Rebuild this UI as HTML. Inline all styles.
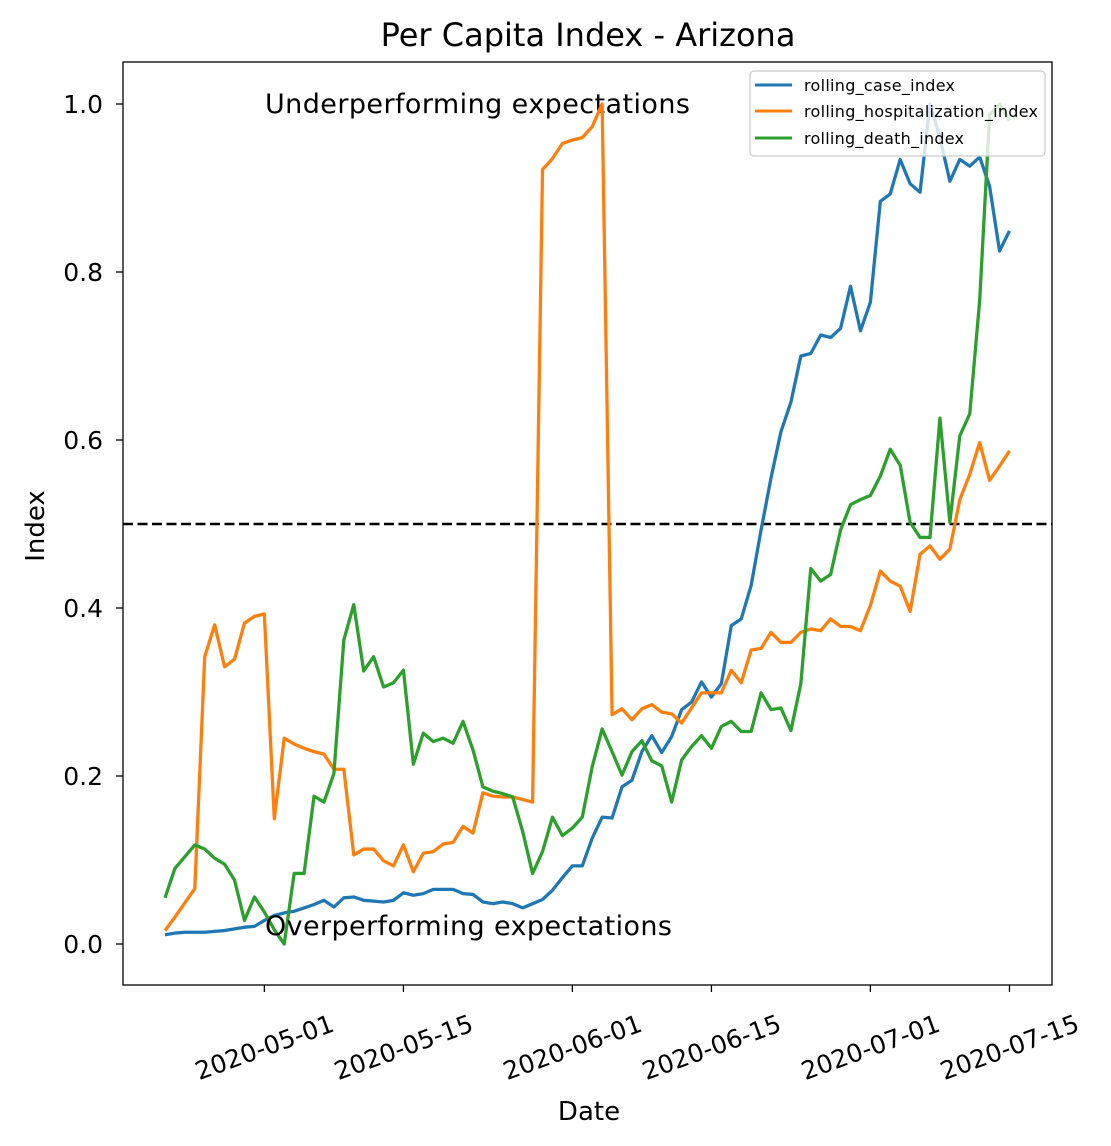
<!DOCTYPE html>
<html><head><meta charset="utf-8"><style>
body{margin:0;background:#fff;}
svg{display:block;font-family:"DejaVu Sans","Liberation Sans",sans-serif;}
</style></head><body>
<svg id="chart" width="1111" height="1146" viewBox="0 0 1111 1146">
<rect x="0" y="0" width="1111" height="1146" fill="#fff"/>
<text x="588" y="46" font-size="32" text-anchor="middle">Per Capita Index - Arizona</text>
<g id="plot"></g>
<rect x="123" y="62" width="929" height="923" fill="none" stroke="#000" stroke-width="1.3"/>
<text x="589" y="1120" font-size="26" text-anchor="middle">Date</text>
<text transform="translate(44,526) rotate(-90)" font-size="26" text-anchor="middle">Index</text>
<g>
<rect x="750" y="71" width="295" height="85" rx="4" fill="#fff" fill-opacity="0.8" stroke="#ccc" stroke-width="1.3"/>
<line x1="755" y1="85" x2="792" y2="85" stroke="#1f77b4" stroke-width="3"/>
<text x="804" y="91" font-size="16" textLength="151">rolling_case_index</text>
<line x1="755" y1="111" x2="792" y2="111" stroke="#ff7f0e" stroke-width="3"/>
<text x="804" y="117" font-size="16" textLength="234">rolling_hospitalization_index</text>
<line x1="755" y1="138" x2="792" y2="138" stroke="#2ca02c" stroke-width="3"/>
<text x="804" y="144" font-size="16" textLength="160">rolling_death_index</text>
</g>
</svg>
<script>
const caseIndex=[0.011,0.013,0.014,0.014,0.014,0.015,0.016,0.018,0.02,0.021,0.028,0.034,0.037,0.039,0.043,0.047,0.052,0.044,0.055,0.056,0.052,0.051,0.050,0.052,0.061,0.058,0.060,0.065,0.065,0.065,0.060,0.059,0.050,0.048,0.050,0.048,0.043,0.048,0.053,0.064,0.079,0.093,0.093,0.126,0.151,0.150,0.187,0.195,0.229,0.248,0.228,0.247,0.279,0.288,0.312,0.294,0.310,0.379,0.387,0.427,0.493,0.555,0.610,0.645,0.700,0.703,0.725,0.722,0.733,0.783,0.730,0.764,0.884,0.893,0.934,0.905,0.895,1.0,0.96,0.908,0.934,0.926,0.937,0.902,0.825,0.849];
const hospIndex=[0.016,0.032,0.049,0.066,0.342,0.380,0.330,0.339,0.382,0.390,0.393,0.149,0.245,0.238,0.233,0.229,0.226,0.208,0.208,0.106,0.113,0.113,0.099,0.093,0.118,0.086,0.108,0.110,0.119,0.121,0.140,0.132,0.180,0.176,0.175,0.175,0.172,0.169,0.922,0.935,0.953,0.957,0.960,0.973,1.0,0.273,0.280,0.267,0.280,0.285,0.276,0.274,0.263,0.281,0.299,0.299,0.299,0.326,0.311,0.350,0.352,0.371,0.359,0.359,0.371,0.375,0.373,0.387,0.378,0.378,0.373,0.403,0.444,0.432,0.426,0.396,0.464,0.474,0.458,0.470,0.529,0.559,0.597,0.552,0.569,0.587];
const deathIndex=[0.055,0.090,0.104,0.118,0.113,0.102,0.095,0.076,0.028,0.056,0.038,0.017,0.0,0.084,0.084,0.176,0.169,0.203,0.362,0.404,0.325,0.342,0.306,0.311,0.326,0.214,0.251,0.241,0.245,0.239,0.265,0.231,0.187,0.182,0.179,0.175,0.134,0.084,0.110,0.151,0.129,0.138,0.151,0.211,0.256,0.229,0.201,0.229,0.242,0.218,0.212,0.169,0.219,0.235,0.248,0.233,0.259,0.265,0.253,0.253,0.299,0.279,0.281,0.254,0.310,0.447,0.432,0.440,0.493,0.523,0.529,0.534,0.557,0.589,0.570,0.502,0.484,0.484,0.626,0.502,0.605,0.631,0.766,0.987,1.0,0.980];
const yTicks=[0.0,0.2,0.4,0.6,0.8,1.0];
const yTickLabels=["0.0","0.2","0.4","0.6","0.8","1.0"];
const xTickIdx=[10,24,41,55,71,85];
const xTickLabels=["2020-05-01","2020-05-15","2020-06-01","2020-06-15","2020-07-01","2020-07-15"];
const threshold=0.5;

const NS="http://www.w3.org/2000/svg";
const plot=document.getElementById('plot');
function xs(i){return 165+9.935*i;}
function ys(v){return 944-v*840;}
function mk(tag,attrs){const e=document.createElementNS(NS,tag);for(const k in attrs)e.setAttribute(k,attrs[k]);plot.appendChild(e);return e;}

yTicks.forEach((v,k)=>{
  const t=mk('line',{x1:116,x2:123,y1:ys(v),y2:ys(v),stroke:'#000','stroke-width':1.3});
  
  
  const l=mk('text',{x:103,y:ys(v)+9,'font-size':25,'text-anchor':'end'});
  l.textContent=yTickLabels[k];
  
  
});
xTickIdx.forEach((i,k)=>{
  const x=xs(i);
  const t=mk('line',{x1:x,x2:x,y1:985,y2:992,stroke:'#000','stroke-width':1.3});
  
  
  const l=mk('text',{transform:`translate(${x},1047) rotate(-20)`,'font-size':25,'text-anchor':'middle',y:9});
  l.textContent=xTickLabels[k];
  
  
});

const th=mk('line',{x1:123,x2:1052,y1:ys(threshold),y2:ys(threshold),stroke:'#000','stroke-width':2.5,'stroke-dasharray':'10 4.5'});



const a1=mk('text',{x:265,y:113,'font-size':27,textLength:425});
a1.textContent='Underperforming expectations';



function series(arr,color,name){
  const p=mk('polyline',{points:arr.map((v,i)=>xs(i)+','+ys(v)).join(' '),fill:'none',stroke:color,'stroke-width':3.3,'stroke-linejoin':'round'});
  
  
}
series(caseIndex,'#1f77b4','case-index-line');
series(hospIndex,'#ff7f0e','hospitalization-index-line');
series(deathIndex,'#2ca02c','death-index-line');

const a2=mk('text',{x:265,y:935,'font-size':27,textLength:407});
a2.textContent='Overperforming expectations';


</script>
</body></html>
